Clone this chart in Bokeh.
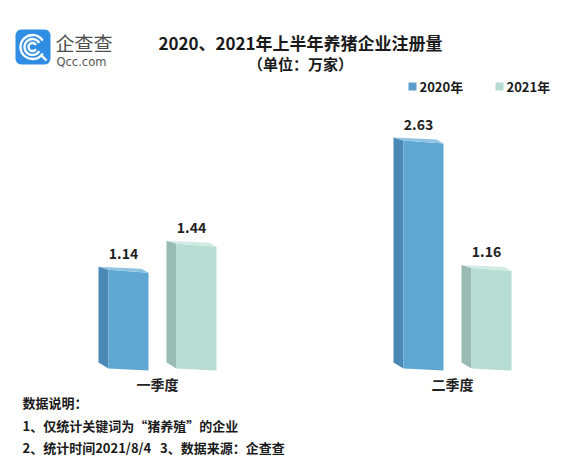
import numpy as np
from bokeh.plotting import figure
from bokeh.models import Range1d, Label
from bokeh.embed import file_html
from bokeh.resources import INLINE

# ---- data ----
quarters = ["一季度", "二季度"]
years = ["2020年", "2021年"]
values_2020 = [1.14, 2.63]
values_2021 = [1.44, 1.16]
title = "2020、2021年上半年养猪企业注册量"
subtitle = "（单位：万家）"
notes = ["数据说明：", "1、仅统计关键词为“猪养殖”的企业",
         "2、统计时间2021/8/4\u00a0\u00a0\u00a03、数据来源：企查查"]

# ---- layout helpers (image pixel -> data) ----
W, H = 560, 458
K = 86.7          # pixels per unit value
BASE = 368        # image y of value 0
def yv(img_y):
    return (BASE - img_y) / K

FONT = "Noto Sans CJK SC"
p = figure(width=W, height=H, output_backend="svg", toolbar_location=None,
           x_range=Range1d(0, W), y_range=Range1d(yv(H), yv(0)),
           min_border=0, outline_line_color=None)
p.axis.visible = False
p.grid.visible = False
p.background_fill_color = "white"

group_centers = [157, 452]
offset = 34
series = [
    (values_2020, -offset, "#5fa6d3", "#4a88b6", "#8ec3e2"),
    (values_2021, offset, "#b6dcd4", "#98bcb4", "#d0eae4"),
]

for vals, off, front_c, side_c, top_c in series:
    fx, fy, sx, sy, tx, ty = [], [], [], [], [], []
    for gc, v in zip(group_centers, vals):
        c = gc + off
        x0, xs, x1 = c - 25, c - 15, c + 25
        d = lambda px: px / K
        sx.append([x0, xs, xs, x0]); sy.append([v + d(3), v, 0, d(6)])
        fx.append([xs, x1, x1, xs]); fy.append([v, v - d(3), -d(2), 0])
        tx.append([x0, x1 - 7, x1, xs]); ty.append([v + d(3), v + d(1), v - d(3), v])
        p.add_layout(Label(x=c, y=v + d(16), text=f"{v:.2f}", text_font=FONT,
                           text_font_style="bold", text_font_size="14px",
                           text_color="#222222", text_align="center",
                           text_baseline="middle"))
    p.patches(sx, sy, fill_color=side_c, line_color=None)
    p.patches(fx, fy, fill_color=front_c, line_color=None)
    p.patches(tx, ty, fill_color=top_c, line_color=None)

for gc, q in zip(group_centers, quarters):
    p.add_layout(Label(x=gc, y=yv(383), text=q, text_font=FONT, text_font_style="bold",
                       text_font_size="14px", text_color="#222222",
                       text_align="center", text_baseline="middle"))

# title
p.add_layout(Label(x=300, y=yv(42), text=title, text_font=FONT, text_font_style="bold",
                   text_font_size="17px", text_color="#1a1a1a",
                   text_align="center", text_baseline="middle"))
p.add_layout(Label(x=300, y=yv(63), text=subtitle, text_font=FONT, text_font_style="bold",
                   text_font_size="15px", text_color="#1a1a1a",
                   text_align="center", text_baseline="middle"))

# legend
leg_x = [408, 495]
leg_col = ["#5b9cc9", "#b8dcd3"]
for lx, lc, yr in zip(leg_x, leg_col, years):
    p.rect(x=lx + 4, y=yv(86), width=8, height=8 / K, fill_color=lc, line_color=None)
    p.add_layout(Label(x=lx + 11, y=yv(86), text=yr, text_font=FONT, text_font_style="bold",
                       text_font_size="13px", text_color="#1a1a1a",
                       text_align="left", text_baseline="middle"))

# notes
for ny, nt in zip([402, 425, 447], notes):
    p.add_layout(Label(x=22, y=yv(ny), text=nt, text_font=FONT, text_font_style="bold",
                       text_font_size="13px", text_color="#1a1a1a",
                       text_align="left", text_baseline="middle"))

# logo (rounded square, image coords with y downward)
lx0, lx1, ly0, ly1, r = 15, 50, 29, 64, 6
pts_x, pts_y = [], []
for cx, cy, a0 in [(lx0 + r, ly0 + r, np.pi), (lx1 - r, ly0 + r, 1.5 * np.pi),
                   (lx1 - r, ly1 - r, 0.0), (lx0 + r, ly1 - r, 0.5 * np.pi)]:
    t = np.linspace(a0, a0 + np.pi / 2, 8)
    pts_x.extend(cx + r * np.cos(t)); pts_y.extend(cy + r * np.sin(t))
p.patch(pts_x, [yv(y) for y in pts_y], fill_color="#2f8ee3", line_color=None)
for rad in [12, 8, 4]:
    p.arc(x=32, y=yv(46.5), radius=rad, radius_units="screen", start_angle=0.55,
          end_angle=-0.55, direction="anticlock", line_color="white", line_width=2.4)
p.line([41, 46], [yv(55), yv(60)], line_color="white", line_width=2.4)
p.add_layout(Label(x=55, y=yv(42), text="企查查", text_font=FONT,
                   text_font_size="19px", text_color="#4d4d4d",
                   text_align="left", text_baseline="middle"))
p.add_layout(Label(x=56, y=yv(61), text="Qcc.com", text_font="DejaVu Sans",
                   text_font_size="11.5px", text_color="#555555",
                   text_align="left", text_baseline="middle"))

open("out.html", "w").write(file_html(p, INLINE))
